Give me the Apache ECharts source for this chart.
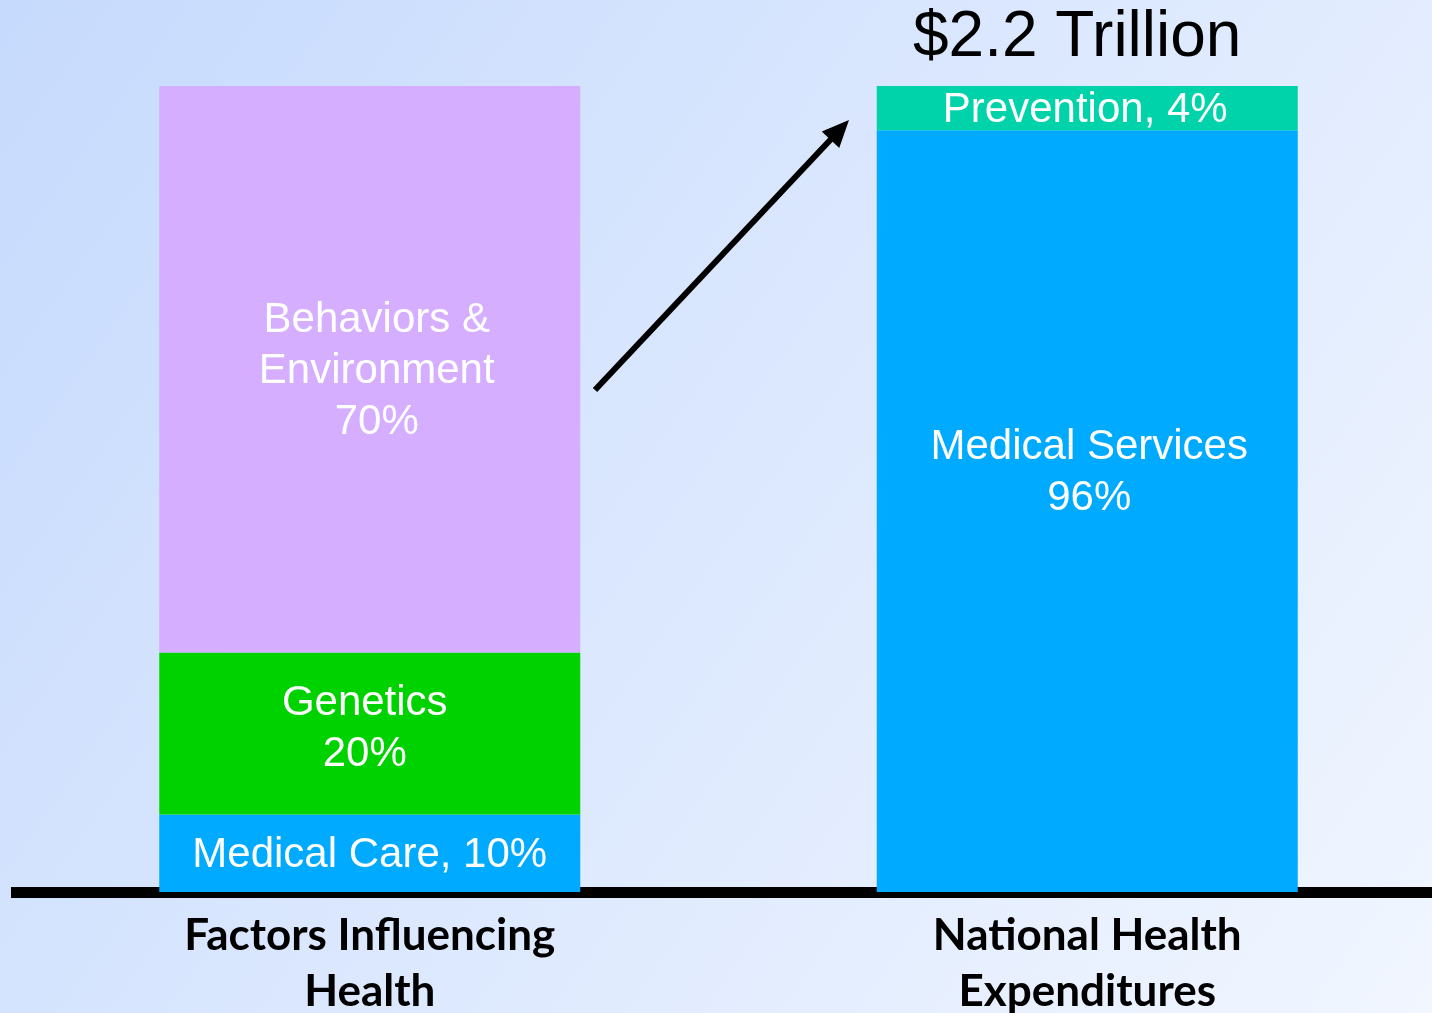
<!DOCTYPE html>
<html>
<head>
<meta charset="utf-8">
<script src="https://cdn.jsdelivr.net/npm/echarts@6/dist/echarts.min.js"></script>
<style>
  html, body { margin: 0; padding: 0; }
  #chart { width: 1432px; height: 1013px; }
</style>
</head>
<body>
<div id="chart"></div>
<script>
// categories on the x axis
const categories = ['Factors Influencing\nHealth', 'National Health\nExpenditures']

// stacked segment heights (percent of bar)
const medicalCare = [9.6, '-']
const genetics = [20.1, '-']
const behaviors = [70.3, '-']
const medicalServices = ['-', 94.5]
const prevention = ['-', 5.5]

// text shown inside each segment
const segmentLabels = {
  medicalCare: 'Medical Care, 10%',
  genetics: 'Genetics\n20%',
  behaviors: 'Behaviors &\nEnvironment\n70%',
  medicalServices: 'Medical Services\n96%',
  prevention: 'Prevention, 4%'
}

const totalLabel = '$2.2 Trillion'

const chart = echarts.init(document.getElementById('chart'))

function seg(name, data, color, text, offset) {
  return {
    name: name,
    type: 'bar',
    stack: 'total',
    data: data,
    barWidth: 421,
    itemStyle: { color: color },
    silent: true,
    label: {
      show: true,
      position: 'inside',
      offset: offset,
      formatter: () => text,
      color: '#fff',
      fontFamily: 'Liberation Sans, Arial, sans-serif',
      fontSize: 42,
      lineHeight: 51
    }
  }
}

// arrow from the left bar towards the right bar
const tail = [595, 390]
const tip = [849, 120]
const dx = tip[0] - tail[0], dy = tip[1] - tail[1]
const len = Math.sqrt(dx * dx + dy * dy)
const ux = dx / len, uy = dy / len
const headLen = 27, headHalf = 12
const base = [tip[0] - ux * headLen, tip[1] - uy * headLen]

const option = {
  backgroundColor: {
    type: 'linear', x: 0, y: 0, x2: 1, y2: 1,
    colorStops: [
      { offset: 0, color: '#c6dafd' },
      { offset: 1, color: '#f1f6ff' }
    ]
  },
  animation: false,
  grid: { left: 11, right: -14, top: 86, bottom: 121, containLabel: false, outerBoundsMode: 'none' },
  xAxis: {
    type: 'category',
    data: categories,
    axisLine: { lineStyle: { color: '#000', width: 11, cap: 'butt' } },
    axisTick: { show: false },
    axisLabel: {
      color: '#000',
      fontFamily: 'Lato, sans-serif',
      fontWeight: 'bold',
      fontSize: 44,
      lineHeight: 56,
      margin: 16
    }
  },
  yAxis: { type: 'value', min: 0, max: 100, show: false },
  series: [
    seg('Medical Care', medicalCare, '#00aaff', segmentLabels.medicalCare, [0, 2]),
    seg('Genetics', genetics, '#00d200', segmentLabels.genetics, [-5, -5]),
    seg('Behaviors & Environment', behaviors, '#d5aeff', segmentLabels.behaviors, [7, 2]),
    seg('Medical Services', medicalServices, '#00aaff', segmentLabels.medicalServices, [2, -38]),
    seg('Prevention', prevention, '#00d3aa', segmentLabels.prevention, [-2, 2])
  ],
  graphic: [
    {
      type: 'text',
      left: 913,
      top: 6,
      style: {
        text: totalLabel,
        fill: '#000',
        font: '64px "Liberation Sans", Arial, sans-serif'
      }
    },
    {
      type: 'line',
      shape: { x1: tail[0], y1: tail[1], x2: base[0] + ux * 4, y2: base[1] + uy * 4 },
      style: { stroke: '#000', lineWidth: 6 }
    },
    {
      type: 'polygon',
      shape: {
        points: [
          tip,
          [base[0] - uy * headHalf, base[1] + ux * headHalf],
          [base[0] + uy * headHalf, base[1] - ux * headHalf]
        ]
      },
      style: { fill: '#000' }
    }
  ]
}

chart.setOption(option)

window.addEventListener('resize', () => chart.resize())
</script>
</body>
</html>
